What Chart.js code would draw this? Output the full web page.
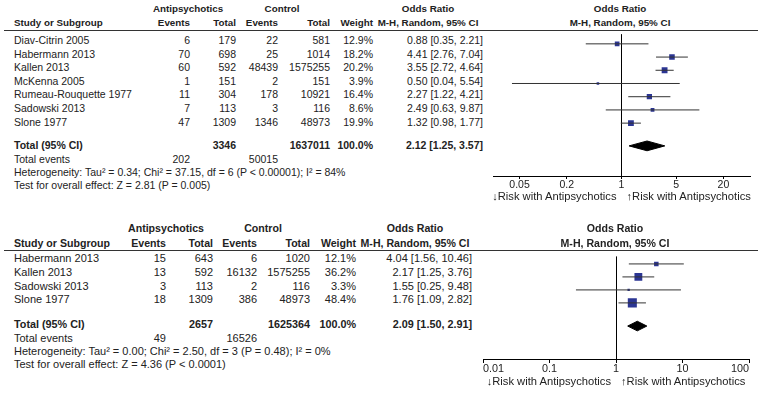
<!DOCTYPE html>
<html>
<head>
<meta charset="utf-8">
<title>Antipsychotics forest plots</title>
<script src="https://cdn.jsdelivr.net/npm/chart.js@4.4.1/dist/chart.umd.min.js"></script>
<style>
  html, body { margin: 0; padding: 0; background: #fff; }
  #page { position: relative; width: 764px; height: 393px; overflow: hidden; font-family: "Liberation Sans", Arial, sans-serif; color: #222; }
  .txt { position: absolute; white-space: nowrap; line-height: 1; }
  .b { font-weight: bold; }
  .rule { position: absolute; height: 1px; background: #333; }
  canvas { position: absolute; }
</style>
</head>
<body>
<div id="page"></div>
<script>
// ---- first analysis ----
const topStudies = ['Diav-Citrin 2005', 'Habermann 2013', 'Kallen 2013', 'McKenna 2005', 'Rumeau-Rouquette 1977', 'Sadowski 2013', 'Slone 1977'];
const topExpEvents = [6, 70, 60, 1, 11, 7, 47];
const topExpTotal = [179, 698, 592, 151, 304, 113, 1309];
const topCtlEvents = [22, 25, 48439, 2, 178, 3, 1346];
const topCtlTotal = [581, 1014, 1575255, 151, 10921, 116, 48973];
const topWeight = [12.9, 18.2, 20.2, 3.9, 16.4, 8.6, 19.9];
const topOR = [0.88, 4.41, 3.55, 0.50, 2.27, 2.49, 1.32];
const topLow = [0.35, 2.76, 2.72, 0.04, 1.22, 0.63, 0.98];
const topHigh = [2.21, 7.04, 4.64, 5.54, 4.21, 9.87, 1.77];
const topPooled = [2.12, 1.25, 3.57];       // estimate, low, high
const topTotals = [3346, 1637011];          // antipsychotics, control
const topTotalEvents = [202, 50015];
const topTicks = [0.05, 0.2, 1, 5, 20];
const topHet = 'Heterogeneity: Tau\u00b2 = 0.34; Chi\u00b2 = 37.15, df = 6 (P < 0.00001); I\u00b2 = 84%';
const topTest = 'Test for overall effect: Z = 2.81 (P = 0.005)';

// ---- second analysis ----
const botStudies = ['Habermann 2013', 'Kallen 2013', 'Sadowski 2013', 'Slone 1977'];
const botExpEvents = [15, 13, 3, 18];
const botExpTotal = [643, 592, 113, 1309];
const botCtlEvents = [6, 16132, 2, 386];
const botCtlTotal = [1020, 1575255, 116, 48973];
const botWeight = [12.1, 36.2, 3.3, 48.4];
const botOR = [4.04, 2.17, 1.55, 1.76];
const botLow = [1.56, 1.25, 0.25, 1.09];
const botHigh = [10.46, 3.76, 9.48, 2.82];
const botPooled = [2.09, 1.50, 2.91];
const botTotals = [2657, 1625364];
const botTotalEvents = [49, 16526];
const botTicks = [0.01, 0.1, 1, 10, 100];
const botHet = 'Heterogeneity: Tau\u00b2 = 0.00; Chi\u00b2 = 2.50, df = 3 (P = 0.48); I\u00b2 = 0%';
const botTest = 'Test for overall effect: Z = 4.36 (P < 0.0001)';

const MARKER_BLUE = '#2b3593';
const LINE_GREY = '#333';
const DIAMOND_HALF = 0.37;   // half height of the pooled diamond, in rows

const page = document.getElementById('page');

function put(text, x, y, size, opts) {
    opts = opts || {};
    const d = document.createElement('div');
    d.className = 'txt' + (opts.bold ? ' b' : '');
    d.textContent = text;
    d.style.left = x + 'px';
    d.style.top = y + 'px';
    d.style.fontSize = size + 'px';
    const ax = opts.align === 'right' ? '-100%' : (opts.align === 'center' ? '-50%' : '0');
    d.style.transform = 'translate(' + ax + ',-50%)';
    page.appendChild(d);
    return d;
}

function rule(x1, x2, y) {
    const d = document.createElement('div');
    d.className = 'rule';
    d.style.left = x1 + 'px';
    d.style.width = (x2 - x1) + 'px';
    d.style.top = y + 'px';
    page.appendChild(d);
}

const fmt = v => v.toFixed(2);
const ciText = (e, l, h) => fmt(e) + ' [' + fmt(l) + ', ' + fmt(h) + ']';

function buildPanel(d, L) {
    const f = L.font, fb = L.boldFont, ft = L.totalFont;
    const c = L.cols;

    // header
    put('Antipsychotics', L.groupA, L.head1Y, fb, { bold: true, align: 'center' });
    put('Control', L.groupC, L.head1Y, fb, { bold: true, align: 'center' });
    put('Odds Ratio', c.orHead, L.head1Y, fb, { bold: true, align: 'center' });
    put('Odds Ratio', c.plotHead, L.head1Y, fb, { bold: true, align: 'center' });
    put('Study or Subgroup', 14, L.head2Y, fb, { bold: true });
    put('Events', c.events, L.head2Y, fb, { bold: true, align: 'right' });
    put('Total', c.total, L.head2Y, fb, { bold: true, align: 'right' });
    put('Events', c.ctlEvents, L.head2Y, fb, { bold: true, align: 'right' });
    put('Total', c.ctlTotal, L.head2Y, fb, { bold: true, align: 'right' });
    put('Weight', c.weight, L.head2Y, fb, { bold: true, align: 'right' });
    put('M-H, Random, 95% CI', c.orHead, L.head2Y, fb, { bold: true, align: 'center' });
    put('M-H, Random, 95% CI', c.plotHead, L.head2Y, fb, { bold: true, align: 'center' });
    rule(4, 758, L.ruleY);

    // study rows
    d.studies.forEach((s, i) => {
        const y = L.row0 + L.rowH * i;
        put(s, 14, y, f);
        put(String(d.expEvents[i]), c.events, y, f, { align: 'right' });
        put(String(d.expTotal[i]), c.total, y, f, { align: 'right' });
        put(String(d.ctlEvents[i]), c.ctlEvents, y, f, { align: 'right' });
        put(String(d.ctlTotal[i]), c.ctlTotal, y, f, { align: 'right' });
        put(d.weight[i].toFixed(1) + '%', c.weight, y, f, { align: 'right' });
        put(ciText(d.or[i], d.low[i], d.high[i]), c.or, y, f, { align: 'right' });
    });

    // totals
    put('Total (95% CI)', 14, L.totalY, ft, { bold: true });
    put(String(d.totals[0]), c.total, L.totalY, ft, { bold: true, align: 'right' });
    put(String(d.totals[1]), c.ctlTotal, L.totalY, ft, { bold: true, align: 'right' });
    put('100.0%', c.weight, L.totalY, ft, { bold: true, align: 'right' });
    put(ciText(d.pooled[0], d.pooled[1], d.pooled[2]), c.or, L.totalY, ft, { bold: true, align: 'right' });
    put('Total events', 14, L.eventsY, f);
    put(String(d.totalEvents[0]), c.events, L.eventsY, f, { align: 'right' });
    put(String(d.totalEvents[1]), c.ctlEvents, L.eventsY, f, { align: 'right' });
    put(d.het, 14, L.hetY, f);
    put(d.test, 14, L.testY, f);

    // forest plot
    const canvasLeft = 440;
    const canvasH = L.axisY - L.ruleY + 24;
    const cv = document.createElement('canvas');
    cv.width = 764 - canvasLeft;
    cv.height = canvasH;
    cv.style.left = canvasLeft + 'px';
    cv.style.top = L.ruleY + 'px';
    page.appendChild(cv);

    const totalRow = (L.totalY - L.row0) / L.rowH;
    const ciPts = [];
    d.low.forEach((lo, i) => {
        ciPts.push({ x: lo, y: i }, { x: d.high[i], y: i }, { x: 1, y: null });
    });
    const p = d.pooled;

    const chart = new Chart(cv, {
        type: 'scatter',
        data: {
            datasets: [
                {
                    data: ciPts,
                    showLine: true,
                    spanGaps: false,
                    borderColor: LINE_GREY,
                    borderWidth: 1,
                    pointRadius: 0
                },
                {
                    data: d.or.map((v, i) => ({ x: v, y: i })),
                    pointStyle: 'rect',
                    pointRadius: ctx => 1.3 * Math.sqrt(d.weight[ctx.dataIndex]) / Math.SQRT2,
                    backgroundColor: MARKER_BLUE,
                    borderWidth: 0
                },
                {
                    data: [
                        { x: p[1], y: totalRow },
                        { x: p[0], y: totalRow - DIAMOND_HALF },
                        { x: p[2], y: totalRow },
                        { x: p[0], y: totalRow + DIAMOND_HALF },
                        { x: p[1], y: totalRow }
                    ],
                    showLine: true,
                    fill: 'shape',
                    backgroundColor: '#000',
                    borderColor: '#000',
                    borderWidth: 1,
                    pointRadius: 0
                }
            ]
        },
        options: {
            responsive: false,
            animation: false,
            layout: { padding: { left: L.axisLeft - canvasLeft, right: 764 - L.axisRight, top: 0, bottom: 0 } },
            plugins: { legend: { display: false }, tooltip: { enabled: false } },
            scales: {
                x: {
                    type: 'logarithmic',
                    min: L.axisMin,
                    max: L.axisMax,
                    afterBuildTicks: s => { s.ticks = d.ticks.map(v => ({ value: v })); },
                    afterFit: s => { s.height = 24; },
                    ticks: {
                        autoSkip: false,
                        maxRotation: 0,
                        padding: 0,
                        align: L.tickAlign,
                        color: '#222',
                        font: { family: '"Liberation Sans", Arial, sans-serif', size: L.tickFont },
                        callback: v => String(v)
                    },
                    grid: {
                        drawOnChartArea: true,
                        color: ctx => (ctx.tick && ctx.tick.value === 1) ? '#000' : 'rgba(0,0,0,0)',
                        tickColor: '#000',
                        tickLength: L.tickLen,
                        lineWidth: 1
                    },
                    border: { display: true, color: '#000', width: 1 }
                },
                y: {
                    type: 'linear',
                    display: false,
                    reverse: true,
                    min: (L.ruleY - L.row0) / L.rowH,
                    max: (L.axisY - L.row0) / L.rowH
                }
            }
        }
    });

    const one = canvasLeft + chart.scales.x.getPixelForValue(1);
    put('\u2193Risk with Antipsychotics', one - 5, L.riskY, L.riskFont, { align: 'right' });
    put('\u2191Risk with Antipsychotics', one + 5, L.riskY, L.riskFont);
}

buildPanel({
    studies: topStudies, expEvents: topExpEvents, expTotal: topExpTotal,
    ctlEvents: topCtlEvents, ctlTotal: topCtlTotal, weight: topWeight,
    or: topOR, low: topLow, high: topHigh, pooled: topPooled,
    totals: topTotals, totalEvents: topTotalEvents, ticks: topTicks,
    het: topHet, test: topTest
}, {
    font: 10.5, boldFont: 9.8, totalFont: 10.5, tickFont: 10.5, riskFont: 11.2, tickAlign: 'center',
    head1Y: 9, head2Y: 23, ruleY: 30,
    row0: 40, rowH: 13.6, totalY: 145, eventsY: 159, hetY: 172, testY: 185,
    axisY: 176, riskY: 197, tickLen: 3,
    axisLeft: 493, axisRight: 750, axisMin: 0.0229, axisMax: 43.7,
    groupA: 188, groupC: 282,
    cols: { events: 190, total: 236, ctlEvents: 278, ctlTotal: 330, weight: 373, or: 483, orHead: 428, plotHead: 620 }
});

buildPanel({
    studies: botStudies, expEvents: botExpEvents, expTotal: botExpTotal,
    ctlEvents: botCtlEvents, ctlTotal: botCtlTotal, weight: botWeight,
    or: botOR, low: botLow, high: botHigh, pooled: botPooled,
    totals: botTotals, totalEvents: botTotalEvents, ticks: botTicks,
    het: botHet, test: botTest
}, {
    font: 11, boldFont: 10.6, totalFont: 10.8, tickFont: 10.8, riskFont: 11.2, tickAlign: 'inner',
    head1Y: 228, head2Y: 243, ruleY: 250,
    row0: 258, rowH: 13.8, totalY: 324, eventsY: 338, hetY: 351, testY: 364,
    axisY: 359, riskY: 382, tickLen: 4,
    axisLeft: 483, axisRight: 749, axisMin: 0.01, axisMax: 100,
    groupA: 166, groupC: 263,
    cols: { events: 166, total: 213, ctlEvents: 257, ctlTotal: 310, weight: 356, or: 472, orHead: 415, plotHead: 615 }
});
</script>
</body>
</html>
